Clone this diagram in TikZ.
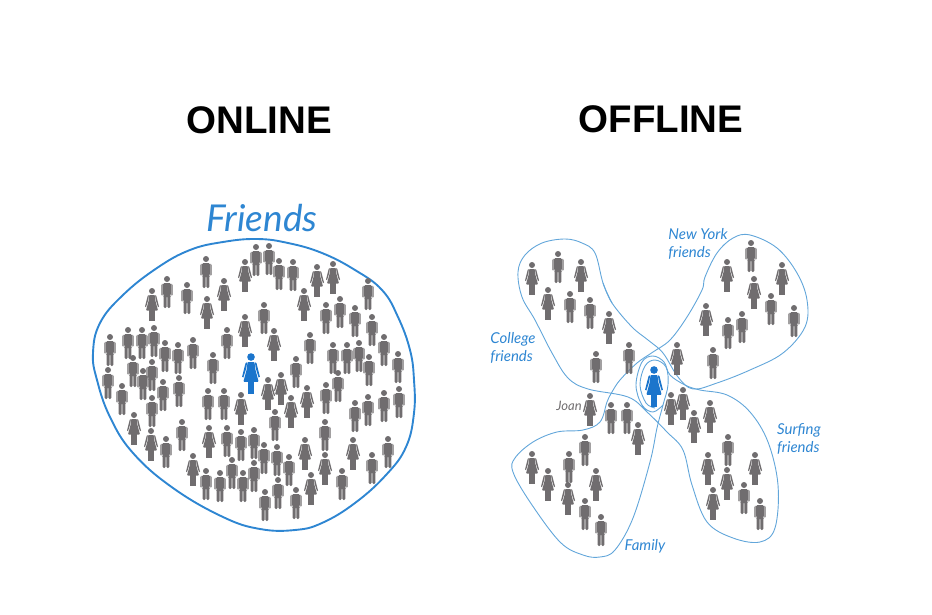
\documentclass[tikz,border=0pt]{standalone}
\usepackage{fontspec}
\usepackage{tikz}
\setmainfont{Liberation Sans}
\newfontfamily\handfont{Lato}
\definecolor{personcolor}{HTML}{706D6F}
\definecolor{womanblue}{HTML}{1B75CC}
\definecolor{friendsblue}{HTML}{2E86D2}
\definecolor{petalblue}{HTML}{62A6DA}
\tikzset{
  man/.pic={
    \fill [personcolor] (0, 0) circle [radius = 3];
    \fill [personcolor, rounded corners=1.2] (-3.9, 4) -- (3.9, 4) -- (3.9, 16.5) -- (3.3, 16.5) -- (3.3, 29) -- (0.4, 29) -- (0.4, 17) -- (-0.4, 17) -- (-0.4, 29) -- (-3.3, 29) -- (-3.3, 16.5) -- (-3.9, 16.5) -- cycle;
    \fill [personcolor, rounded corners=0.8] (-5.6, 5.6) -- (-4.3, 4.2) -- (-4.3, 16.5) -- (-5.6, 16.5) -- cycle;
    \fill [personcolor, rounded corners=0.8] (5.6, 5.6) -- (4.3, 4.2) -- (4.3, 16.5) -- (5.6, 16.5) -- cycle;
  },
  woman/.pic={
    \fill [personcolor] (0, 0) circle [radius = 3];
    \fill [personcolor, rounded corners=0.8] (-2.8, 4) -- (2.8, 4) -- (3.2, 9) -- (6, 19.5) -- (-6, 19.5) -- (-3.2, 9) -- cycle;
    \fill [personcolor] (3.1, 4.2) -- (4.3, 4.8) -- (7, 15.5) -- (6, 16.2) -- (3.7, 8.8) -- cycle;
    \fill [personcolor] (-3.1, 4.2) -- (-4.3, 4.8) -- (-7, 15.5) -- (-6, 16.2) -- (-3.7, 8.8) -- cycle;
    \fill [personcolor] (-2.7, 19) rectangle (-0.35, 29.5);
    \fill [personcolor] (0.35, 19) rectangle (2.7, 29.5);
  },
  label/.style={font=\handfont\itshape\fontsize{15}{18}\selectfont, text=friendsblue, align=left, inner sep=0pt},
  title/.style={font=\bfseries\fontsize{38.5}{38.5}\selectfont, inner sep=0pt},
  petal/.style={draw=petalblue, line width=0.9pt}
}

\begin{document}
\begin{tikzpicture}[x=1pt, y=-1pt]
  \useasboundingbox (0, 0) rectangle (932, 615);
  \node [title] (online) at (259, 120) {ONLINE};
  \node [title] (offline) at (661, 119) {OFFLINE};
  \node [label, font=\handfont\itshape\fontsize{37}{37}\selectfont] (friends) at (262, 218) {Friends};
  \node [label] (newyork) at (698, 244) {New York\\friends};
  \node [label] (college) at (513, 348) {College\\friends};
  \node [label, text=personcolor, font=\handfont\itshape\fontsize{13}{13}\selectfont] (joan) at (569, 406) {Joan};
  \node [label] (surfing) at (799, 439) {Surfing\\friends};
  \node [label] (family) at (645, 546) {Family};

  % online
  \draw [friendsblue, line width=1.9pt] plot [smooth cycle, tension=0.7] coordinates {(93, 353) (100, 323) (123, 295) (157, 268) (190, 250) (223, 242) (257, 239) (288, 243) (322, 253) (355, 270) (382, 290) (398, 317) (410, 350) (414, 380) (414, 413) (406, 447) (386, 475) (355, 503) (322, 523) (295, 530) (260, 529) (223, 517) (173, 488) (133, 453) (110, 417) (97, 380)};
  \pic at (206, 259) {man};
  \pic at (245, 262) {woman};
  \pic at (256, 247) {man};
  \pic at (269, 246) {man};
  \pic at (279, 261) {man};
  \pic at (293, 262) {man};
  \pic at (317, 267) {woman};
  \pic at (333, 264) {woman};
  \pic at (368, 281) {man};
  \pic at (167, 279) {man};
  \pic at (187, 285) {man};
  \pic at (224, 281) {woman};
  \pic at (152, 291) {woman};
  \pic at (207, 299) {woman};
  \pic at (304, 291) {woman};
  \pic at (264, 305) {man};
  \pic at (326, 305) {man};
  \pic at (340, 299) {man};
  \pic at (355, 308) {man};
  \pic at (372, 317) {man};
  \pic at (245, 317) {woman};
  \pic at (227, 330) {man};
  \pic at (110, 337) {man};
  \pic at (128, 330) {man};
  \pic at (142, 330) {man};
  \pic at (154, 328) {man};
  \pic at (165, 343) {man};
  \pic at (178, 345) {man};
  \pic at (193, 340) {man};
  \pic at (213, 355) {man};
  \pic at (274, 331) {woman};
  \pic at (310, 335) {man};
  \pic at (333, 345) {man};
  \pic at (347, 345) {man};
  \pic at (359, 343) {man};
  \pic at (384, 337) {man};
  \pic at (398, 354) {man};
  \pic at (369, 357) {man};
  \pic at (296, 359) {man};
  \pic at (133, 358) {man};
  \pic at (152, 362) {man};
  \pic at (108, 370) {man};
  \pic at (143, 371) {man};
  \pic at (122, 386) {man};
  \pic at (163, 382) {man};
  \pic at (179, 378) {man};
  \pic at (152, 398) {man};
  \pic at (134, 415) {woman};
  \pic at (151, 431) {woman};
  \pic at (166, 439) {man};
  \pic at (182, 422) {man};
  \pic at (208, 391) {man};
  \pic at (224, 391) {man};
  \pic at (241, 395) {woman};
  \pic at (209, 428) {woman};
  \pic at (227, 428) {man};
  \pic at (241, 432) {man};
  \pic at (254, 430) {man};
  \pic at (193, 456) {woman};
  \pic at (206, 471) {man};
  \pic at (220, 473) {man};
  \pic at (232, 460) {man};
  \pic at (243, 473) {man};
  \pic at (254, 463) {man};
  \pic at (268, 380) {woman};
  \pic at (281, 375) {woman};
  \pic at (307, 388) {woman};
  \pic at (326, 385) {man};
  \pic at (338, 373) {man};
  \pic at (291, 398) {woman};
  \pic at (275, 412) {man};
  \pic at (355, 403) {man};
  \pic at (368, 397) {man};
  \pic at (384, 393) {man};
  \pic at (399, 389) {man};
  \pic at (325, 422) {man};
  \pic at (305, 440) {woman};
  \pic at (353, 440) {woman};
  \pic at (388, 439) {man};
  \pic at (372, 455) {man};
  \pic at (325, 455) {woman};
  \pic at (342, 471) {man};
  \pic at (311, 475) {woman};
  \pic at (264, 445) {man};
  \pic at (277, 447) {man};
  \pic at (289, 457) {man};
  \pic at (278, 480) {man};
  \pic at (296, 490) {man};
  \pic at (265, 492) {man};

  % offline
  \draw [petal] plot [smooth, tension=0.6] coordinates {(603, 283) (612, 303) (632, 327) (648, 340) (663, 353) (678, 377) (693, 389) (717, 383) (750, 370) (783, 353) (805, 327) (807, 300) (797, 273) (777, 248) (750, 235) (733, 238) (717, 253) (705, 277) (702, 290) (687, 317) (670, 340) (653, 352) (637, 363) (620, 380) (612, 392) (607, 402) (600, 422) (583, 430) (557, 432) (533, 442) (515, 458) (513, 472) (530, 502) (560, 542) (583, 555) (600, 557) (615, 550) (633, 518) (650, 462) (657, 428) (663, 405) (668, 385) (666, 367) (655, 360) (645, 366) (640, 385) (646, 403) (655, 408)};
  \draw [petal] plot [smooth, tension=0.6] coordinates {(612, 303) (603, 283) (595, 253) (582, 243) (565, 239) (542, 243) (525, 255) (518, 272) (522, 297) (535, 320) (552, 353) (568, 378) (588, 389) (628, 397) (647, 412) (667, 432) (683, 450) (692, 485) (707, 522) (733, 538) (760, 542) (775, 528) (778, 485) (768, 442) (750, 412) (727, 395) (700, 390) (685, 385) (670, 375) (664, 362) (653, 356) (642, 362) (636, 385) (642, 405) (653, 412) (663, 405)};
  \pic at (532, 265) {woman};
  \pic at (558, 254) {man};
  \pic at (581, 262) {woman};
  \pic at (548, 290) {woman};
  \pic at (570, 294) {man};
  \pic at (590, 300) {man};
  \pic at (609, 314) {woman};
  \pic at (629, 345) {man};
  \pic at (596, 354) {man};
  \pic at (751, 243) {man};
  \pic at (727, 262) {woman};
  \pic at (782, 265) {woman};
  \pic at (754, 279) {woman};
  \pic at (771, 296) {man};
  \pic at (794, 308) {man};
  \pic at (706, 306) {woman};
  \pic at (742, 314) {man};
  \pic at (728, 320) {man};
  \pic at (677, 345) {woman};
  \pic at (713, 350) {man};
  \pic at (590, 396) {woman};
  \pic at (611, 405) {man};
  \pic at (627, 405) {man};
  \pic at (638, 425) {woman};
  \pic at (585, 437) {man};
  \pic at (532, 454) {woman};
  \pic at (569, 454) {man};
  \pic at (548, 471) {woman};
  \pic at (596, 471) {woman};
  \pic at (568, 485) {woman};
  \pic at (585, 501) {man};
  \pic at (601, 517) {man};
  \pic at (671, 395) {woman};
  \pic at (683, 390) {woman};
  \pic at (694, 413) {woman};
  \pic at (710, 403) {woman};
  \pic at (728, 437) {man};
  \pic at (708, 455) {woman};
  \pic at (755, 455) {woman};
  \pic at (727, 470) {woman};
  \pic at (744, 485) {man};
  \pic at (713, 490) {woman};
  \pic at (760, 501) {man};

  \colorlet{personcolor}{womanblue}
  \pic [scale=1.27] at (251, 357) {woman};
  \pic [scale=1.27] at (654, 370) {woman};
\end{tikzpicture}
\end{document}
